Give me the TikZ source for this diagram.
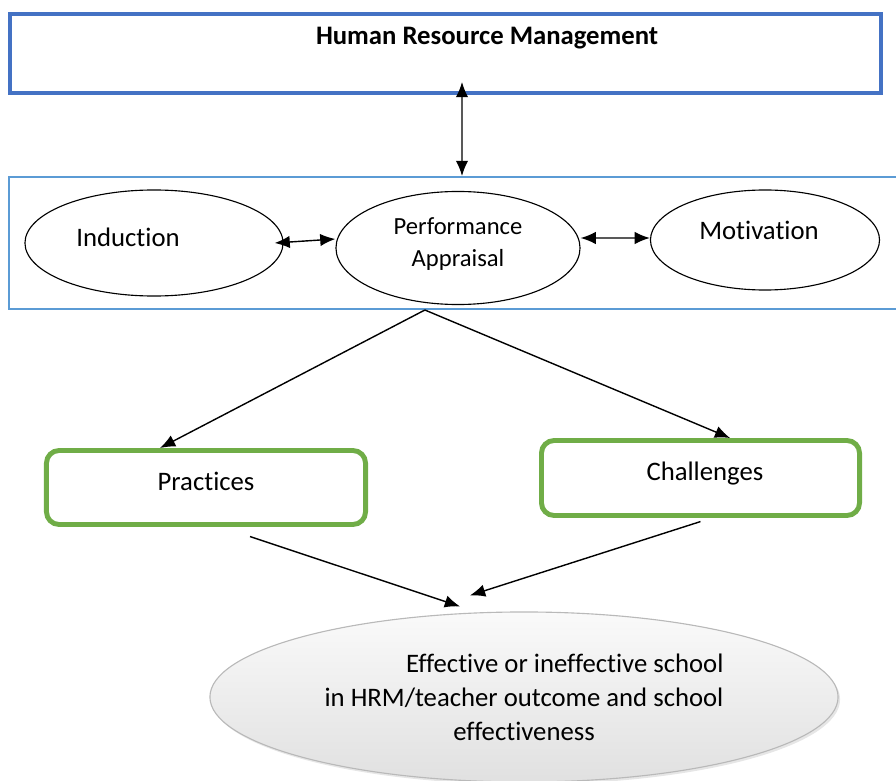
\documentclass[tikz,border=0pt]{standalone}
\usepackage{fontspec}
\setmainfont[Ligatures=NoCommon]{Carlito}
\usepackage{calc}
\usetikzlibrary{arrows.meta,shapes.geometric,shadows}
\definecolor{hrmblue}{HTML}{4472C4}
\definecolor{boxblue}{HTML}{5B9BD5}
\definecolor{boxgreen}{HTML}{70AD47}
\tikzset{
  bigfont/.style={font=\fontsize{19}{24.2}\selectfont},
  bubble/.style={draw, ellipse, inner sep=0pt, line width=0.8pt},
  greenbox/.style={draw=boxgreen, line width=3.5pt, rounded corners=9pt, inner sep=0pt},
  tip/.tip={Latex[length=3.8mm,width=3.1mm]},
  dbl/.style={tip-tip, line width=1pt},
  one/.style={-tip, line width=1pt},
}
\begin{document}
\begin{tikzpicture}[x=0.025cm, y=-0.025cm]
  \useasboundingbox (0,0) rectangle (896,781);
  % top box
  \node[draw=hrmblue, line width=2.8pt, minimum width=21.775cm, minimum height=1.975cm, inner sep=0pt,
        label={[font=\fontsize{19}{24.2}\selectfont\bfseries, xshift=1.04cm, yshift=0.39cm]center:Human Resource Management}]
        (hrm) at (445.5,53.5) {};
  % middle group and its three ellipses
  \node[draw=boxblue, line width=1.4pt, minimum width=22.275cm, minimum height=3.3cm, inner sep=0pt]
        (grp) at (454.5,243) {};
  \node[bubble, minimum width=6.45cm, minimum height=2.65cm,
        label={[bigfont, xshift=-0.65cm, yshift=0.15cm]center:Induction}] (ind) at (154,243) {};
  \node[bubble, minimum width=6.1cm, minimum height=2.825cm,
        label={[font=\fontsize{17.5}{22.8}\selectfont, align=center, yshift=0.1cm]center:Performance\\Appraisal}] (pa) at (458,248) {};
  \node[bubble, minimum width=5.725cm, minimum height=2.5cm,
        label={[bigfont, xshift=-0.15cm, yshift=0.25cm]center:Motivation}] (mot) at (765,240) {};
  \draw[dbl] ([xshift=0.4125cm, yshift=0.325cm]hrm.south) -- ([xshift=0.1875cm]grp.north);
  \draw[dbl] ([xshift=-0.225cm]ind.east) -- ([yshift=0.225cm]pa.west);
  \draw[dbl] ([yshift=0.25cm]pa.east) -- ([yshift=0.05cm]mot.west);
  % practices / challenges
  \node[greenbox, minimum width=7.975cm, minimum height=1.85cm,
        label={[bigfont, yshift=0.16cm]center:Practices}] (prac) at (206,487.5) {};
  \node[greenbox, minimum width=7.95cm, minimum height=1.875cm,
        label={[bigfont, xshift=0.11cm, yshift=0.12cm]center:Challenges}] (chal) at (700.5,478) {};
  \coordinate (split) at ([xshift=-0.74cm]grp.south);
  \draw[one] (split) -- ([xshift=-1.15cm]prac.north);
  \draw[one] (split) -- ([xshift=0.74cm]chal.north);
  % outcome
  \node[ellipse, draw=gray!55, line width=0.8pt, top color=gray!4, bottom color=gray!24,
        drop shadow={opacity=0.2, shadow xshift=0.05cm, shadow yshift=-0.06cm},
        minimum width=15.7cm, minimum height=4.25cm, inner sep=0pt, bigfont, align=center]
        (out) at (524,697)
        {\makebox[\widthof{in HRM/teacher outcome and school}][r]{Effective or ineffective school}\\
         in HRM/teacher outcome and school\\ effectiveness};
  \draw[one] ([xshift=1.1cm, yshift=-0.24cm]prac.south) -- ([xshift=-1.6cm, yshift=0.125cm]out.north);
  \draw[one] ([yshift=-0.09cm]chal.south) -- ([xshift=-1.35cm, yshift=0.4cm]out.north);
\end{tikzpicture}
\end{document}
